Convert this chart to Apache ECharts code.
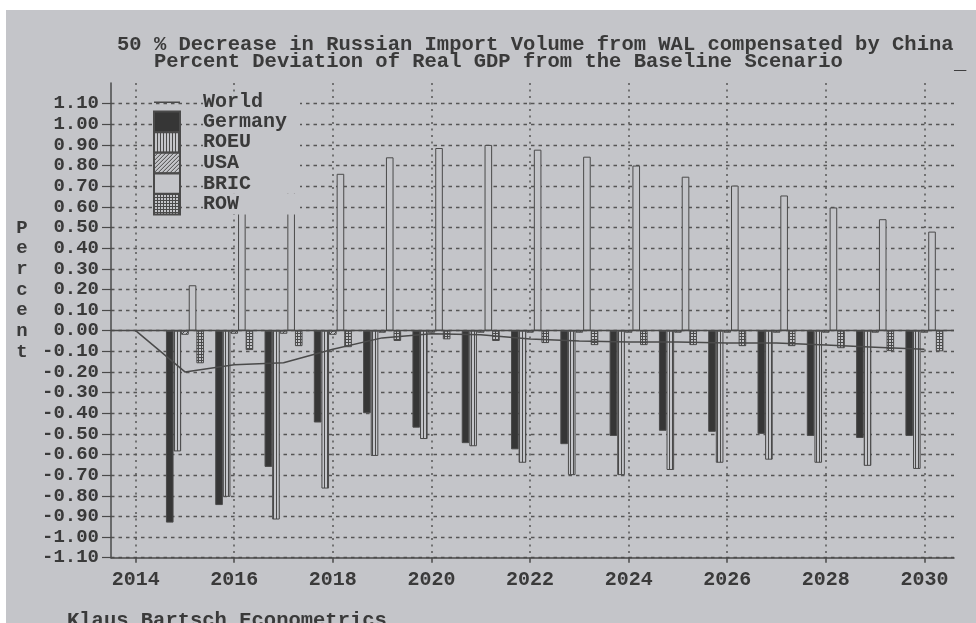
<!DOCTYPE html>
<html>
<head>
<meta charset="utf-8">
<script src="https://cdn.jsdelivr.net/npm/echarts@6/dist/echarts.min.js"></script>
<style>
  html, body { margin: 0; padding: 0; background: #fff; }
  #main { width: 976px; height: 623px; }
</style>
</head>
<body>
<div id="main"></div>
<script>
// data
var years = [2014, 2015, 2016, 2017, 2018, 2019, 2020, 2021, 2022, 2023, 2024, 2025, 2026, 2027, 2028, 2029, 2030];
var barYears = [2015, 2016, 2017, 2018, 2019, 2020, 2021, 2022, 2023, 2024, 2025, 2026, 2027, 2028, 2029, 2030];
var world = [0, -0.20, -0.165, -0.155, -0.09, -0.035, -0.015, -0.02, -0.04, -0.05, -0.055, -0.055, -0.06, -0.06, -0.07, -0.08, -0.09];
var germany = [-0.93, -0.845, -0.66, -0.445, -0.40, -0.47, -0.545, -0.575, -0.55, -0.51, -0.485, -0.49, -0.50, -0.51, -0.52, -0.51];
var roeu = [-0.585, -0.805, -0.915, -0.765, -0.607, -0.525, -0.56, -0.64, -0.70, -0.70, -0.675, -0.64, -0.625, -0.64, -0.655, -0.67];
var usa = [-0.02, -0.015, -0.015, -0.02, -0.01, -0.01, -0.01, -0.01, -0.01, -0.01, -0.01, -0.01, -0.01, -0.01, -0.01, -0.01];
var bric = [0.22, 0.60, 0.68, 0.76, 0.84, 0.885, 0.90, 0.877, 0.843, 0.80, 0.746, 0.703, 0.655, 0.597, 0.54, 0.48];
var row = [-0.158, -0.094, -0.075, -0.08, -0.05, -0.042, -0.05, -0.06, -0.07, -0.07, -0.07, -0.075, -0.075, -0.085, -0.099, -0.10];
var xTicks = [2014, 2016, 2018, 2020, 2022, 2024, 2026, 2028, 2030];
var yTicks = [-1.1, -1.0, -0.9, -0.8, -0.7, -0.6, -0.5, -0.4, -0.3, -0.2, -0.1, 0, 0.1, 0.2, 0.3, 0.4, 0.5, 0.6, 0.7, 0.8, 0.9, 1.0, 1.1];

var BG = '#c4c5c9';
var INK = '#3a3a3a';
var LINE = '#4a4a4a';
var FONT = '"Liberation Mono", "DejaVu Sans Mono", monospace';

// small bitmap fill patterns like the old plotter hatches
function pattern(w, h, dots, fg) {
  var c = document.createElement('canvas');
  c.width = w; c.height = h;
  var ctx = c.getContext('2d');
  ctx.fillStyle = BG;
  ctx.fillRect(0, 0, w, h);
  ctx.fillStyle = fg || LINE;
  dots.forEach(function (d) { ctx.fillRect(d[0], d[1], 1, 1); });
  return { image: c, repeat: 'repeat' };
}
var roeuFill = pattern(3, 1, [[0, 0]]);
var usaFill = pattern(4, 4, [[3, 0], [2, 1], [1, 2], [0, 3]]);
var rowFill = pattern(3, 3, [[0, 0], [1, 0], [2, 0], [0, 1], [0, 2]]);

// legend icon for the line: a thin bar in the middle of the item box
var lineIcon = 'path://M0,0L26,0L26,0.01Z M0,9.5L26,9.5L26,11L0,11Z M0,20.4L26,20.4L26,20.41Z';

function pairs(xs, ys) {
  return xs.map(function (x, i) { return [x, ys[i]]; });
}

var myChart = echarts.init(document.getElementById('main'));

function barSeries(name, values, color, extra) {
  var s = {
    name: name,
    type: 'bar',
    data: pairs(barYears, values),
    barWidth: 7.6,
    barGap: '0%',
    z: 2,
    itemStyle: {
      color: color,
      borderColor: LINE,
      borderWidth: 1
    }
  };
  if (extra) {
    for (var k in extra) s[k] = extra[k];
  }
  return s;
}

var option = {
  backgroundColor: BG,
  animation: false,
  grid: {
    left: 111,
    right: 22,
    top: 83,
    bottom: 65.3
  },
  legend: {
    orient: 'vertical',
    left: 153,
    top: 92,
    padding: 0,
    itemWidth: 26,
    itemHeight: 20.4,
    itemGap: -1.8,
    selectedMode: false,
    formatter: '{g|}{t|{name}}',
    textStyle: {
      fontFamily: FONT,
      fontWeight: 'bold',
      fontSize: 20,
      lineHeight: 20.4,
      color: INK,
      rich: {
        g: { width: 18, height: 20.4, lineHeight: 20.4 },
        t: { backgroundColor: BG, width: 97, height: 20.4, lineHeight: 20.4 }
      }
    },
    data: [
      { name: 'World', icon: lineIcon },
      { name: 'Germany', icon: 'rect' },
      { name: 'ROEU', icon: 'rect' },
      { name: 'USA', icon: 'rect' },
      { name: 'BRIC', icon: 'rect' },
      { name: 'ROW', icon: 'rect' }
    ]
  },
  xAxis: {
    type: 'value',
    min: 2013.5,
    max: 2030.6,
    axisLine: { onZero: false, lineStyle: { color: LINE, width: 1.5 } },
    axisTick: { customValues: xTicks, length: 5, lineStyle: { color: LINE, width: 1.5 } },
    axisLabel: {
      customValues: xTicks,
      margin: 12,
      color: INK,
      fontFamily: FONT,
      fontWeight: 'bold',
      fontSize: 20,
      formatter: function (v) { return String(v); }
    },
    splitLine: {
      show: true,
      lineStyle: { color: '#555', width: 1.5, type: [2, 4.5] }
    }
  },
  yAxis: {
    type: 'value',
    min: -1.1,
    max: 1.2,
    axisLine: { show: true, onZero: false, lineStyle: { color: LINE, width: 1.5 } },
    axisTick: { show: true, customValues: yTicks, length: 9, lineStyle: { color: LINE, width: 1.2 } },
    axisLabel: {
      customValues: yTicks,
      margin: 12,
      color: INK,
      fontFamily: FONT,
      fontWeight: 'bold',
      fontSize: 19,
      formatter: function (v) { return v.toFixed(2); }
    },
    splitLine: {
      show: true,
      lineStyle: { color: '#555', width: 1.3, type: [3.5, 4] }
    }
  },
  series: [
    {
      name: 'World',
      type: 'line',
      data: pairs(years, world),
      symbol: 'none',
      z: 4,
      color: LINE,
      itemStyle: { color: LINE },
      lineStyle: { color: LINE, width: 1.5 }
    },
    barSeries('Germany', germany, '#363636', {
      markLine: {
        silent: true,
        symbol: 'none',
        label: { show: false },
        lineStyle: { color: LINE, width: 1.3, type: 'solid' },
        data: [{ yAxis: 0 }]
      }
    }),
    barSeries('ROEU', roeu, roeuFill),
    barSeries('USA', usa, usaFill),
    barSeries('BRIC', bric, BG),
    barSeries('ROW', row, rowFill)
  ],
  graphic: [
    { type: 'rect', shape: { x: 0, y: 0, width: 976, height: 10 }, style: { fill: '#fff' }, silent: true },
    { type: 'rect', shape: { x: 0, y: 0, width: 6, height: 623 }, style: { fill: '#fff' }, silent: true },
    {
      type: 'text', x: 117, y: 45,
      style: {
        text: '50 % Decrease in Russian Import Volume from WAL compensated by China',
        fontFamily: FONT, fontWeight: 'bold', fontSize: 20.5, fill: INK, verticalAlign: 'middle'
      }
    },
    {
      type: 'text', x: 117, y: 62,
      style: {
        text: '   Percent Deviation of Real GDP from the Baseline Scenario',
        fontFamily: FONT, fontWeight: 'bold', fontSize: 20.5, fill: INK, verticalAlign: 'middle'
      }
    },
    {
      type: 'text', x: 954, y: 64,
      style: { text: '_', fontFamily: FONT, fontWeight: 'bold', fontSize: 20.5, fill: INK, verticalAlign: 'middle' }
    },
    {
      type: 'text', x: 22, y: 217.7,
      style: {
        text: 'P\ne\nr\nc\ne\nn\nt',
        fontFamily: FONT, fontWeight: 'bold', fontSize: 19, lineHeight: 20.64,
        fill: INK, align: 'center', verticalAlign: 'top'
      }
    },
    {
      type: 'text', x: 67, y: 621,
      style: {
        text: 'Klaus Bartsch Econometrics',
        fontFamily: FONT, fontWeight: 'bold', fontSize: 20.5, fill: INK, verticalAlign: 'middle'
      }
    }
  ]
};

myChart.setOption(option);
</script>
</body>
</html>
